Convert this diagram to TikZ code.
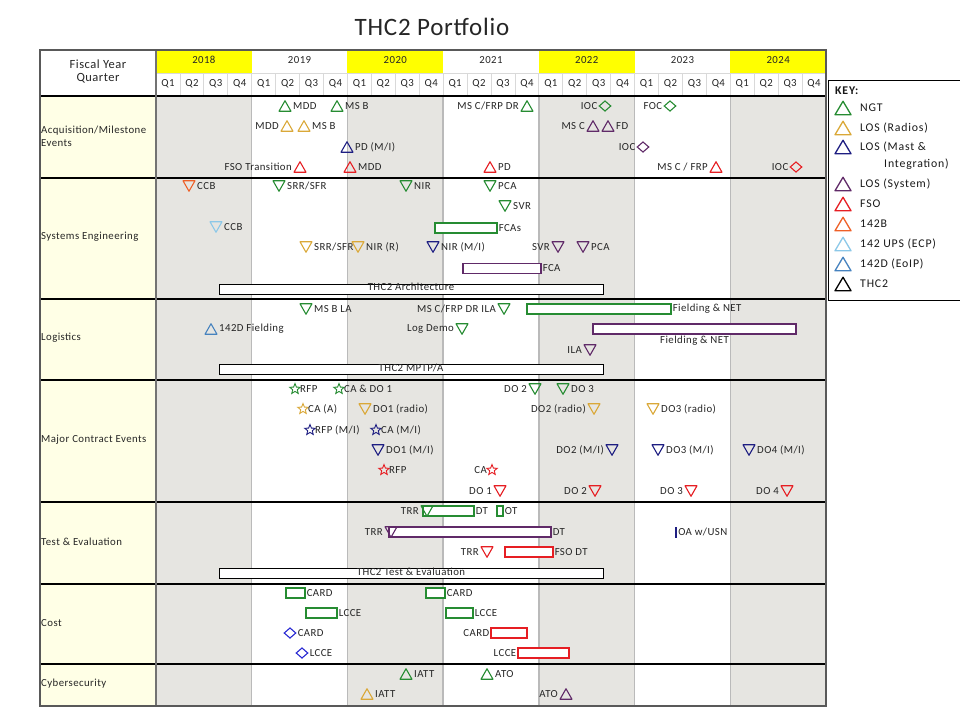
\documentclass[tikz,border=0pt]{standalone}
\usepackage{fontspec}
\setmainfont{Carlito}
\newfontfamily\lblfam[LetterSpace=4]{Carlito}
\newfontfamily\legfam[LetterSpace=7]{Carlito}
\newfontfamily\ttlfam[LetterSpace=3]{Carlito}
\usetikzlibrary{shapes.geometric}
\definecolor{ngt}{RGB}{38,140,50}
\definecolor{rad}{RGB}{218,168,56}
\definecolor{mast}{RGB}{30,30,130}
\definecolor{sys}{RGB}{96,42,104}
\definecolor{fso}{RGB}{230,30,35}
\definecolor{bfour}{RGB}{238,96,40}
\definecolor{ups}{RGB}{140,200,232}
\definecolor{eoip}{RGB}{70,130,190}
\definecolor{cblue}{RGB}{40,40,210}
\definecolor{colgray}{RGB}{230,229,225}
\definecolor{labbg}{RGB}{255,255,230}
\definecolor{yel}{RGB}{255,255,0}
\newcounter{mkc}
\newcommand\mk[4]{\stepcounter{mkc}\edef\mkname{mk\arabic{mkc}}\node[#1,label={#4}] (\mkname) at (#2,#3) {};}
\newcommand\barn[6]{\pgfmathsetmacro\bw{#3-#2}\pgfmathsetmacro\bx{(#2+#3)/2}\node[barn=#1,minimum width=\bw pt,#5] (#6) at (\bx,#4) {};}
\tikzset{
  lab/.style={font=\lblfam\fontsize{10.8}{12.5}\selectfont, inner sep=1pt, text=black!85},
  leg/.style={font=\legfam\fontsize{11.8}{13}\selectfont, inner sep=0pt, text=black!90, anchor=west},
  every label/.style={lab},
  label distance=0pt,
  tu/.style={inner sep=0, outer sep=0, minimum width=14pt, minimum height=12.5pt,
    path picture={\draw[draw=#1, line width=1.1pt, line join=round]
      ([xshift=1pt,yshift=1pt]path picture bounding box.south west) --
      ([yshift=-1pt]path picture bounding box.north) --
      ([xshift=-1pt,yshift=1pt]path picture bounding box.south east) -- cycle;}},
  td/.style={inner sep=0, outer sep=0, minimum width=14pt, minimum height=12.5pt,
    path picture={\draw[draw=#1, line width=1.1pt, line join=round]
      ([xshift=1pt,yshift=-1pt]path picture bounding box.north west) --
      ([yshift=1pt]path picture bounding box.south) --
      ([xshift=-1pt,yshift=-1pt]path picture bounding box.north east) -- cycle;}},
  tuL/.style={inner sep=0, outer sep=0, minimum width=18pt, minimum height=15.5pt,
    path picture={\draw[draw=#1, line width=1.3pt, line join=round]
      ([xshift=1pt,yshift=1pt]path picture bounding box.south west) --
      ([yshift=-1pt]path picture bounding box.north) --
      ([xshift=-1pt,yshift=1pt]path picture bounding box.south east) -- cycle;}},
  dm/.style={diamond, draw=#1, line width=1.1pt, minimum width=12pt, minimum height=10.5pt, inner sep=0},
  st/.style={star, star points=5, star point ratio=2.3, draw=#1, line width=0.9pt, minimum size=11pt, inner sep=0},
  barn/.style={draw=#1, fill=white, line width=1.1pt, minimum height=10pt, inner sep=0},
  qline/.style={draw=black!15, line width=0.8pt},
  yline/.style={draw=black!27, line width=1.5pt},
  rowline/.style={draw=black, line width=1.4pt},
  sepline/.style={draw=black!55, line width=2.2pt},
  frame/.style={draw=black!65, line width=1.5pt},
}
\begin{document}
\begin{tikzpicture}[x=1pt,y=-1pt]
\useasboundingbox (0,0) rectangle (960,720);
\fill[white] (0,0) rectangle (960,720);
\node[font=\ttlfam\fontsize{25}{30}\selectfont, text=black!85] (title) at (432,27) {THC2 Portfolio};
% fills
\fill[labbg] (40,96) rectangle (156,706);
\foreach \i in {0,2,4,6}{
  \pgfmathsetmacro\xa{156+\i*95.714}\pgfmathsetmacro\xb{\xa+95.714}
  \fill[yel] (\xa,50) rectangle (\xb,73);
  \fill[colgray] (\xa,96) rectangle (\xb,706);}
% grid
\foreach \i in {1,...,27}{\pgfmathsetmacro\xa{156+\i*23.929}\draw[qline] (\xa,73) -- (\xa,96);}
\draw[qline] (156,73) -- (826,73);
\foreach \i in {1,...,6}{\pgfmathsetmacro\xa{156+\i*95.714}\draw[yline] (\xa,96) -- (\xa,706);}
\foreach \yy in {178,299,380,502,584,664}{\draw[rowline] (40,\yy) -- (826,\yy);}
\draw[black, line width=1.8pt] (40,96) -- (826,96);
\draw[sepline] (156,50) -- (156,706);
\draw[frame] (40,50) rectangle (826,706);
% header
\node[lab, font=\lblfam\fontsize{12.5}{13}\selectfont, align=center] (fyq) at (98,71) {Fiscal Year\\Quarter};
\foreach \i/\yr in {0/2018,1/2019,2/2020,3/2021,4/2022,5/2023,6/2024}{
  \pgfmathsetmacro\xc{156+(\i+0.5)*95.714}\node[lab] (yr\i) at (\xc,60) {\yr};}
\foreach \i in {0,...,27}{
  \pgfmathsetmacro\xc{156+(\i+0.5)*23.929}\pgfmathtruncatemacro\qq{mod(\i,4)+1}
  \node[lab] (q\i) at (\xc,84) {Q\qq};}
% row labels
\node[lab, anchor=west, align=left] (rA) at (40,136.5) {Acquisition/Milestone\\Events};
\node[lab, anchor=west] (rS) at (40,237) {Systems Engineering};
\node[lab, anchor=west] (rL) at (40,338) {Logistics};
\node[lab, anchor=west] (rM) at (40,440) {Major Contract Events};
\node[lab, anchor=west] (rT) at (40,542) {Test \& Evaluation};
\node[lab, anchor=west] (rC) at (40,623) {Cost};
\node[lab, anchor=west] (rY) at (40,684) {Cybersecurity};
% Acquisition
\mk{tu=ngt}{285}{106}{east:MDD}
\mk{tu=ngt}{337}{106}{east:MS B}
\mk{tu=ngt}{527}{106}{west:MS C/FRP DR}
\mk{dm=ngt}{605}{106}{west:IOC}
\mk{dm=ngt}{670}{106}{west:FOC}
\mk{tu=rad}{287}{126}{west:MDD}
\mk{tu=rad}{304}{126}{east:MS B}
\mk{tu=sys}{593}{126}{west:MS C}
\mk{tu=sys}{608}{126}{east:FD}
\mk{tu=mast}{347}{147}{east:PD (M/I)}
\mk{dm=sys}{643}{147}{west:IOC}
\mk{tu=fso}{300}{167}{west:FSO Transition}
\mk{tu=fso}{350}{167}{east:MDD}
\mk{tu=fso}{490}{167}{east:PD}
\mk{tu=fso}{716}{167}{west:MS C / FRP}
\mk{dm=fso}{796}{167}{west:IOC}
% Systems Engineering
\mk{td=bfour}{189}{186}{east:CCB}
\mk{td=ngt}{279}{186}{east:SRR/SFR}
\mk{td=ngt}{406}{186}{east:NIR}
\mk{td=ngt}{490}{186}{east:PCA}
\mk{td=ngt}{505}{206}{east:SVR}
\mk{td=ups}{216}{227}{east:CCB}
\barn{ngt}{435}{497}{228}{label=east:FCAs}{seFCAs}
\mk{td=rad}{306}{247}{east:SRR/SFR}
\mk{td=rad}{358}{247}{east:NIR (R)}
\mk{td=mast}{433}{247}{east:NIR (M/I)}
\mk{td=sys}{558}{247}{west:SVR}
\mk{td=sys}{583}{247}{east:PCA}
\barn{sys}{463}{541}{268.5}{label=east:FCA}{seFCA}
\barn{black}{219}{603}{289}{line width=0.9pt}{seArch}
\node[lab] (seArchT) at (411,287) {THC2 Architecture};
% Logistics
\mk{td=ngt}{306}{309}{east:MS B LA}
\mk{td=ngt}{504}{309}{west:MS C/FRP DR ILA}
\barn{ngt}{527}{671}{309}{label=east:Fielding \& NET}{lgNGT}
\mk{tu=eoip}{211}{329}{east:142D Fielding}
\mk{td=ngt}{462}{329}{west:Log Demo}
\barn{sys}{593}{796}{329}{label=below:Fielding \& NET}{lgSYS}
\mk{td=sys}{590}{350}{west:ILA}
\barn{black}{219}{603}{369.5}{line width=0.9pt}{lgMPTP}
\node[lab] (lgMPTPT) at (411,367.5) {THC2 MPTP/A};
% Major Contract Events
\mk{st=ngt}{295}{389}{east:RFP}
\mk{st=ngt}{339}{389}{east:CA \& DO 1}
\mk{td=ngt}{535}{389}{west:DO 2}
\mk{td=ngt}{563}{389}{east:DO 3}
\mk{st=rad}{303}{409}{east:CA (A)}
\mk{td=rad}{365}{409}{east:DO1 (radio)}
\mk{td=rad}{594}{409}{west:DO2 (radio)}
\mk{td=rad}{653}{409}{east:DO3 (radio)}
\mk{st=mast}{310}{430}{east:RFP (M/I)}
\mk{st=mast}{376}{430}{east:CA (M/I)}
\mk{td=mast}{378}{450}{east:DO1 (M/I)}
\mk{td=mast}{612}{450}{west:DO2 (M/I)}
\mk{td=mast}{658}{450}{east:DO3 (M/I)}
\mk{td=mast}{749}{450}{east:DO4 (M/I)}
\mk{st=fso}{384}{470}{east:RFP}
\mk{st=fso}{492}{470}{west:CA}
\mk{td=fso}{500}{491}{west:DO 1}
\mk{td=fso}{595}{491}{west:DO 2}
\mk{td=fso}{691}{491}{west:DO 3}
\mk{td=fso}{787}{491}{west:DO 4}
% Test & Evaluation
\barn{ngt}{423}{474}{511}{label=east:DT}{teDT1}
\mk{td=ngt}{427}{511}{west:TRR}
\barn{ngt}{497}{503}{511}{label=east:OT}{teOT}
\barn{sys}{389}{551}{532}{label=east:DT}{teDT2}
\mk{td=sys}{391}{532}{west:TRR}
\node[draw=mast, fill=mast, line width=0.6pt, minimum width=1.5pt, minimum height=10pt, inner sep=0, label=east:OA w/USN] (teOA) at (676,532) {};
\mk{td=fso}{487}{552}{west:TRR}
\barn{fso}{505}{553}{552}{label=east:FSO DT}{teFSO}
\barn{black}{219}{603}{573.5}{line width=0.9pt}{teTE}
\node[lab] (teTET) at (411,571.5) {THC2 Test \& Evaluation};
% Cost
\barn{ngt}{286}{305}{593}{label=east:CARD}{cC1}
\barn{ngt}{426}{445}{593}{label=east:CARD}{cC2}
\barn{ngt}{306}{337}{613}{label=east:LCCE}{cL1}
\barn{ngt}{446}{473}{613}{label=east:LCCE}{cL2}
\mk{dm=cblue}{290}{633}{east:CARD}
\barn{fso}{491}{527}{633}{label=west:CARD}{cC3}
\mk{dm=cblue}{302}{653}{east:LCCE}
\barn{fso}{518}{569}{653}{label=west:LCCE}{cL3}
% Cybersecurity
\mk{tu=ngt}{406}{674}{east:IATT}
\mk{tu=ngt}{487}{674}{east:ATO}
\mk{tu=rad}{367}{694}{east:IATT}
\mk{tu=sys}{566}{694}{west:ATO}
% Legend
\draw[black, line width=0.9pt] (828,80) rectangle (975,300);
\node[leg, font=\legfam\bfseries\fontsize{11.8}{13}\selectfont] (key) at (835,91) {KEY:};
\node[tuL=ngt] (k1) at (843,108) {};   \node[leg] (k1t) at (860,108) {NGT};
\node[tuL=rad] (k2) at (843,128) {};   \node[leg] (k2t) at (860,128) {LOS (Radios)};
\node[tuL=mast] (k3) at (843,147) {};  \node[leg] (k3t) at (860,147) {LOS (Mast \&};
\node[leg] (k3u) at (884,164) {Integration)};
\node[tuL=sys] (k4) at (843,184) {};   \node[leg] (k4t) at (860,184) {LOS (System)};
\node[tuL=fso] (k5) at (843,204) {};   \node[leg] (k5t) at (860,204) {FSO};
\node[tuL=bfour] (k6) at (843,224) {}; \node[leg] (k6t) at (860,224) {142B};
\node[tuL=ups] (k7) at (843,244) {};   \node[leg] (k7t) at (860,244) {142 UPS (ECP)};
\node[tuL=eoip] (k8) at (843,264) {};  \node[leg] (k8t) at (860,264) {142D (EoIP)};
\node[tuL=black] (k9) at (843,284) {}; \node[leg] (k9t) at (860,284) {THC2};
\end{tikzpicture}
\end{document}
